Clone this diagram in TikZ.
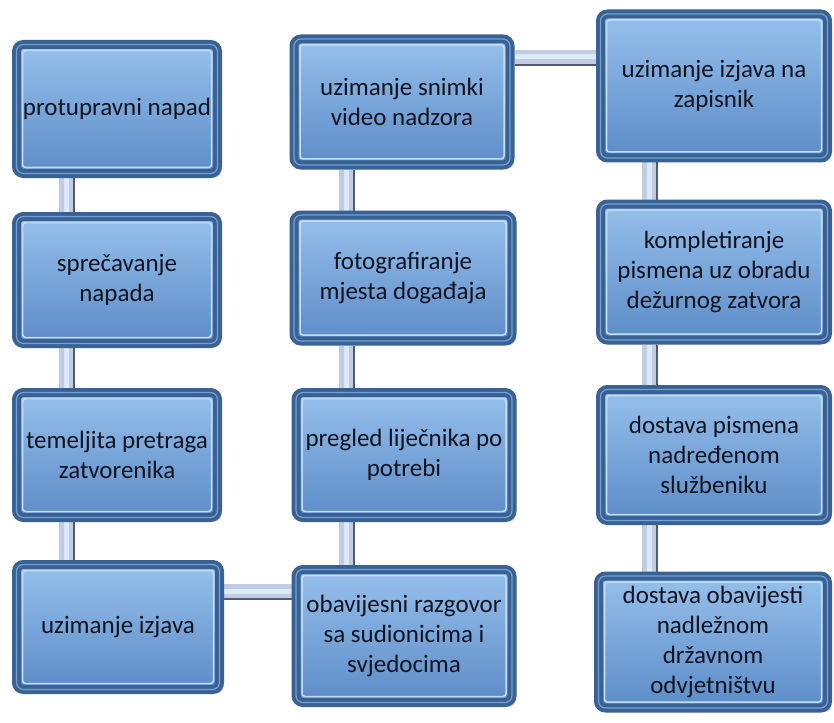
\documentclass[tikz,border=0pt]{standalone}
\usepackage{fontspec}
\setmainfont{Carlito}
\usetikzlibrary{shadows,backgrounds,calc}
\definecolor{frame}{RGB}{56,98,148}
\definecolor{framehi}{RGB}{120,160,210}
\definecolor{fillhi}{RGB}{150,192,235}
\definecolor{filllo}{RGB}{92,140,200}
\definecolor{pipemid}{RGB}{190,205,226}
\definecolor{pipehi}{RGB}{222,232,246}
\definecolor{pipedark}{RGB}{80,90,115}
\definecolor{txt}{RGB}{20,20,30}
\tikzset{
 stepbox/.style={rectangle, rounded corners=7pt, draw=frame, line width=9pt,
   top color=fillhi, bottom color=filllo, text=txt,
   font=\fontsize{25}{30}\selectfont, align=center, inner sep=2pt,
   drop shadow={shadow xshift=4pt, shadow yshift=-4pt, opacity=0.35, fill=black!60},
   path picture={\draw[fillhi!55!white, line width=1.5pt, rounded corners=3pt]
     ([shift={(6pt,-6pt)}]path picture bounding box.north west) rectangle
     ([shift={(-6pt,6pt)}]path picture bounding box.south east);},
   postaction={draw=framehi, line width=1.2pt, rounded corners=9pt}},
 vpipe/.style={line width=16pt, draw=pipemid,
   postaction={draw=pipehi, line width=5pt, transform canvas={xshift=-1pt}},
   postaction={draw=pipedark, line width=1.5pt, transform canvas={xshift=7pt}}},
 hpipe/.style={line width=16pt, draw=pipemid,
   postaction={draw=pipehi, line width=5pt, transform canvas={yshift=1pt}},
   postaction={draw=pipedark, line width=1.5pt, transform canvas={yshift=-7pt}}}
}
\begin{document}
\begin{tikzpicture}[x=1pt,y=-1pt]
\useasboundingbox (0,0) rectangle (834,722);
% column 1
\node[stepbox, minimum width=201pt, minimum height=129pt] (b1) at (117,109) {protupravni napad};
\node[stepbox, minimum width=201pt, minimum height=127pt] (b2) at (117,280) {sprečavanje\\napada};
\node[stepbox, minimum width=201pt, minimum height=125pt] (b3) at (117,455) {temeljita pretraga\\zatvorenika};
\node[stepbox, minimum width=203pt, minimum height=125pt] (b4) at (118,627) {uzimanje izjava};
% column 2
\node[stepbox, minimum width=216pt, minimum height=126pt] (b5) at (402,102) {uzimanje snimki\\video nadzora};
\node[stepbox, minimum width=218pt, minimum height=126pt] (b6) at (403,278) {fotografiranje\\mjesta događaja};
\node[stepbox, minimum width=216pt, minimum height=125pt] (b7) at (404,455) {pregled liječnika po\\potrebi};
\node[stepbox, minimum width=216pt, minimum height=133pt] (b8) at (404,636) {obavijesni razgovor\\sa sudionicima i\\svjedocima};
% column 3
\node[stepbox, minimum width=227pt, minimum height=144pt] (b9) at (714,86) {uzimanje izjava na\\zapisnik};
\node[stepbox, minimum width=227pt, minimum height=136pt] (b10) at (714,272) {kompletiranje\\pismena uz obradu\\dežurnog zatvora};
\node[stepbox, minimum width=227pt, minimum height=131pt] (b11) at (714,455) {dostava pismena\\nadređenom\\službeniku};
\node[stepbox, minimum width=229pt, minimum height=132pt] (b12) at (713,642) {dostava obavijesti\\nadležnom\\državnom\\odvjetništvu};
\begin{scope}[on background layer]
\coordinate (c1) at (67,0);
\coordinate (c2) at (347,0);
\coordinate (c3) at (650,0);
\coordinate (h1) at (0,592);
\coordinate (h2) at (0,58);
\draw[vpipe] (c1 |- b1.south) -- (c1 |- b2.north);
\draw[vpipe] (c1 |- b2.south) -- (c1 |- b3.north);
\draw[vpipe] (c1 |- b3.south) -- (c1 |- b4.north);
\draw[hpipe] (b4.east |- h1) -- (b8.west |- h1);
\draw[vpipe] (c2 |- b8.north) -- (c2 |- b7.south);
\draw[vpipe] (c2 |- b7.north) -- (c2 |- b6.south);
\draw[vpipe] (c2 |- b6.north) -- (c2 |- b5.south);
\draw[hpipe] (b5.east |- h2) -- (b9.west |- h2);
\draw[vpipe] (c3 |- b9.south) -- (c3 |- b10.north);
\draw[vpipe] (c3 |- b10.south) -- (c3 |- b11.north);
\draw[vpipe] (c3 |- b11.south) -- (c3 |- b12.north);
\end{scope}
\end{tikzpicture}
\end{document}
